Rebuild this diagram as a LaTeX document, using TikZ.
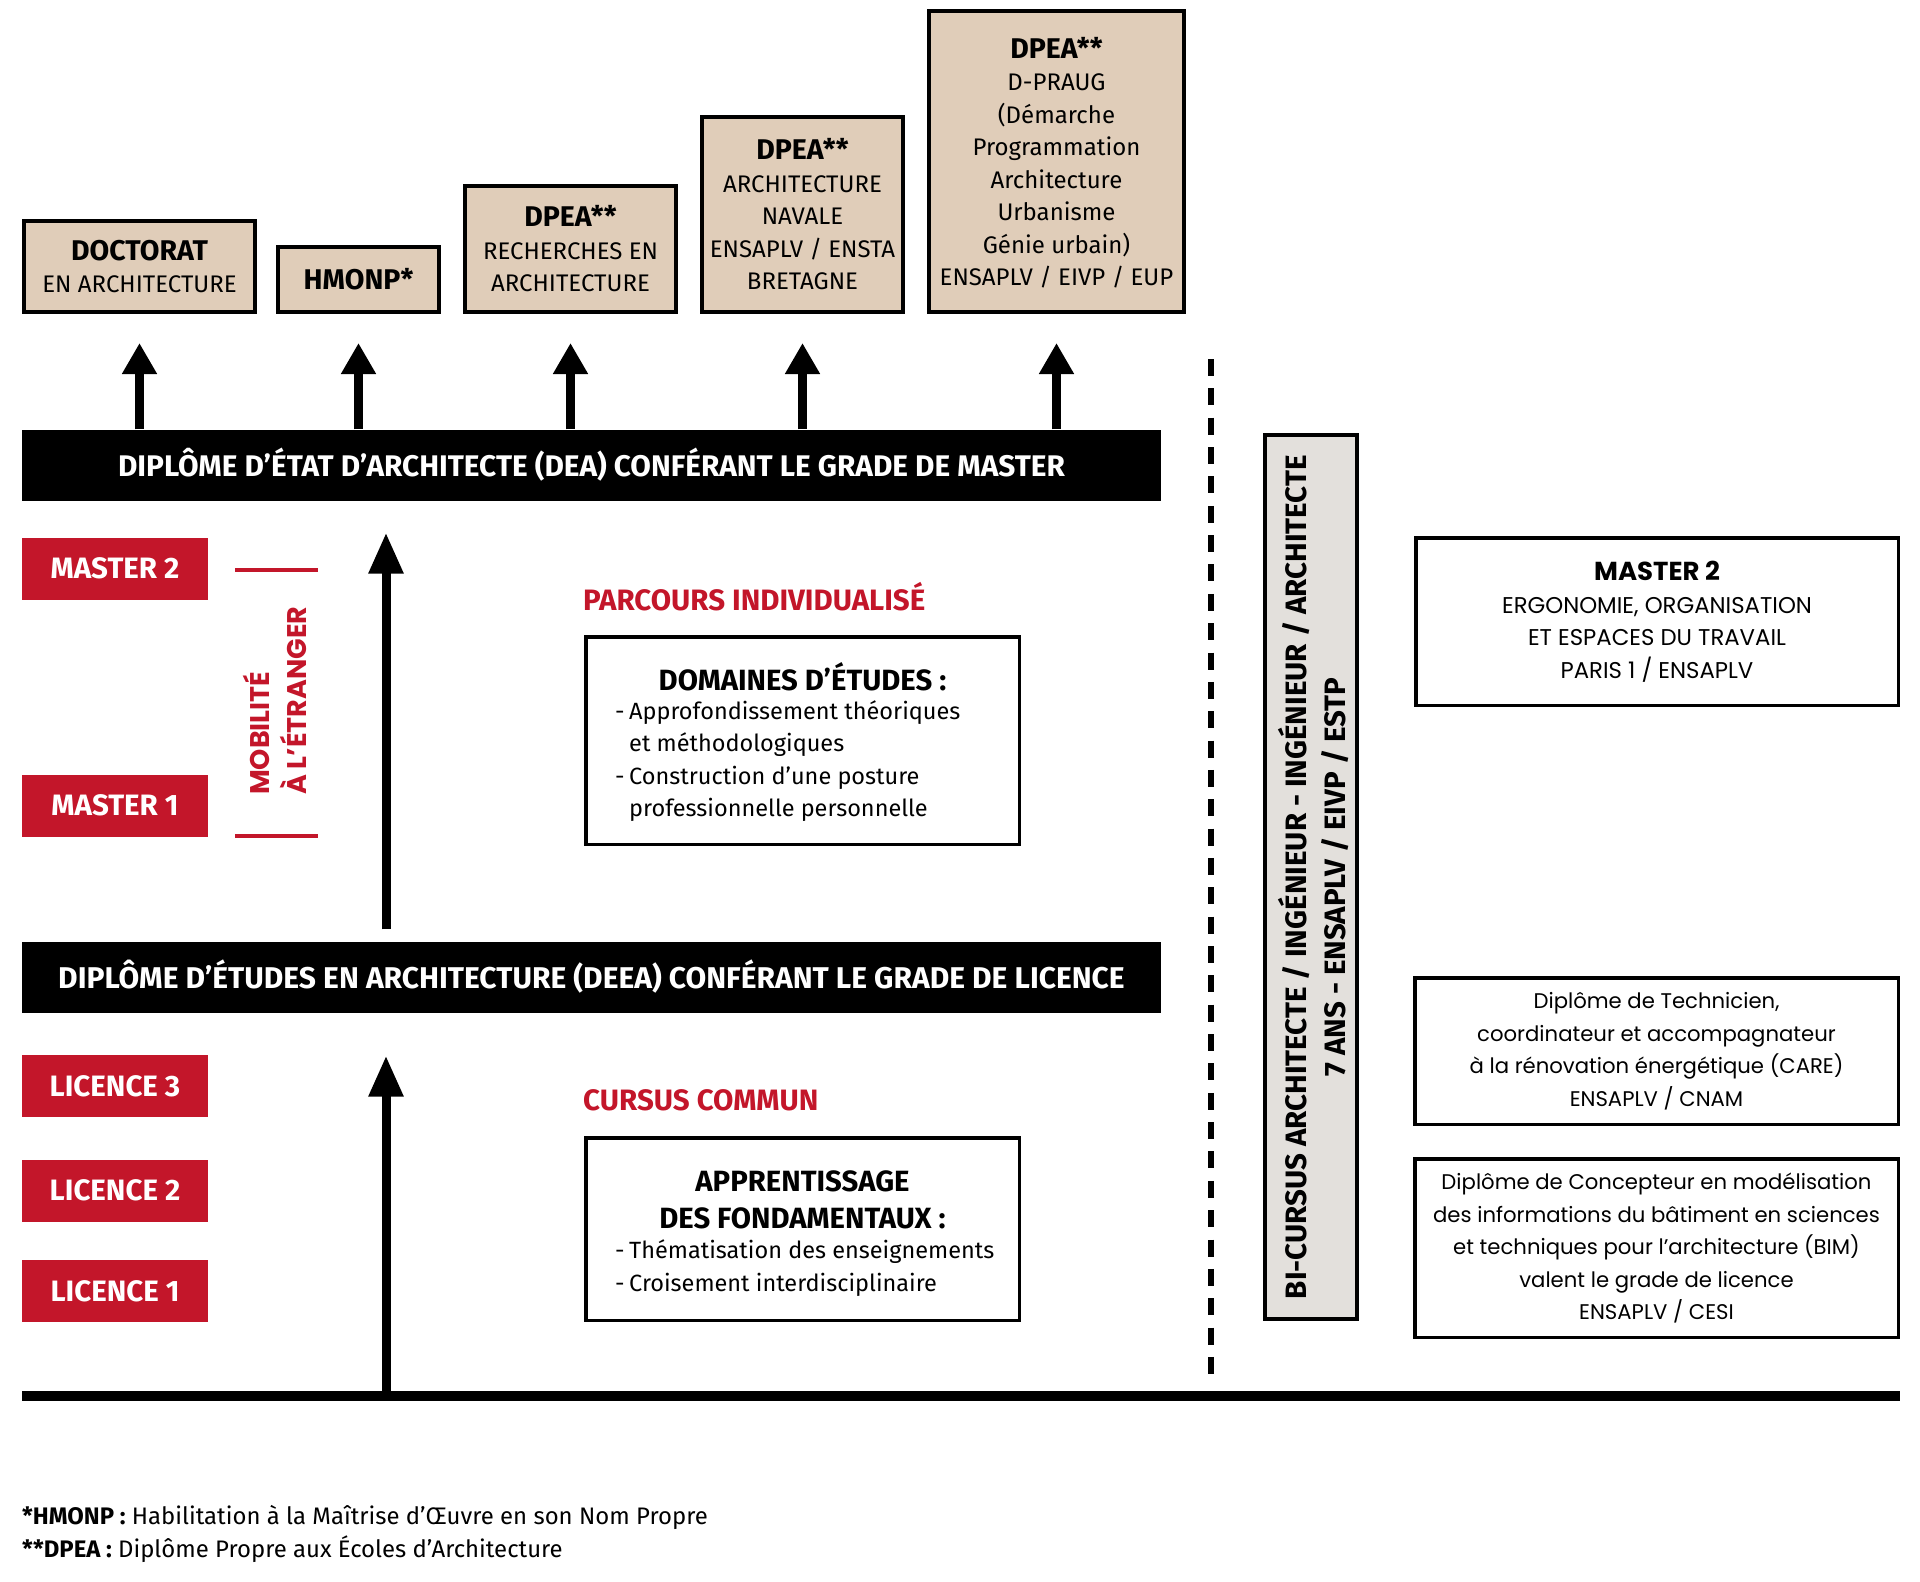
\documentclass[tikz,border=0pt]{standalone}
\usepackage{fontspec}
\setmainfont{Fira Sans}
\newfontfamily\geo{Poppins}
\usetikzlibrary{arrows.meta}
\definecolor{beige}{HTML}{E0CDB9}
\definecolor{rouge}{HTML}{C3162A}
\definecolor{gris}{HTML}{E3E0DC}
\newcommand{\fsz}[2]{\fontsize{#1}{#2}\selectfont}
\newcommand{\boxttl}[1]{{\fsz{28.5}{32.5}\bfseries #1}}
\begin{document}
\begin{tikzpicture}[x=1pt,y=-1pt,
 topbox/.style={draw=black,line width=4pt,fill=beige,inner sep=0pt,align=center,font=\fsz{24}{32.5}},
 blackbar/.style={fill=black,inner sep=0pt,text=white,font=\fsz{29.8}{34}\bfseries,minimum width=1139pt,minimum height=71pt},
 redlab/.style={fill=rouge,inner sep=0pt,text=white,font=\fsz{29.5}{34}\bfseries,minimum width=186pt,minimum height=62pt},
 wbox/.style={draw=black,line width=3.5pt,fill=white,inner sep=0pt},
 rbox/.style={wbox,align=center,font=\geo\fsz{21.2}{32.5}},
 uparr/.style={line width=9pt,-{Triangle[length=31pt,width=33pt]}},
 bigarr/.style={line width=9pt,-{Triangle[length=41pt,width=33pt]}},
 redtitle/.style={text=rouge,font=\fsz{29.5}{34}\bfseries,inner sep=0pt,anchor=west},
 bodytext/.style={font=\fsz{23.5}{32.4},inner sep=0pt,align=left,anchor=west},
 boxtitle/.style={font=\fsz{29.3}{37}\bfseries,inner sep=0pt,align=center},
]
\useasboundingbox (0,0) rectangle (1920,1582);
% top boxes
\node[topbox,minimum width=231pt,minimum height=91pt] (doc) at (139.5,266.5) {\boxttl{DOCTORAT}\\EN ARCHITECTURE};
\node[topbox,minimum width=161pt,minimum height=65pt] (hmonp) at (358.5,279.5) {\boxttl{HMONP*}};
\node[topbox,minimum width=211pt,minimum height=126pt] (rech) at (570.5,249) {\boxttl{DPEA**}\\RECHERCHES EN\\ARCHITECTURE};
\node[topbox,minimum width=201pt,minimum height=195pt] (nav) at (802.5,214.5) {\boxttl{DPEA**}\\ARCHITECTURE\\NAVALE\\ENSAPLV / ENSTA\\BRETAGNE};
\node[topbox,minimum width=255pt,minimum height=301pt,text depth=-6pt] (prau) at (1056.5,161.5) {\boxttl{DPEA**}\\D-PRAUG\\(Démarche\\Programmation\\Architecture\\Urbanisme\\Génie urbain)\\ENSAPLV / EIVP / EUP};
% bars
\node[blackbar] (dea) at (591.5,465) {DIPLÔME D’ÉTAT D’ARCHITECTE (DEA) CONFÉRANT LE GRADE DE MASTER};
\node[blackbar,font=\fsz{30}{34}\bfseries] (deea) at (591.5,977) {DIPLÔME D’ÉTUDES EN ARCHITECTURE (DEEA) CONFÉRANT LE GRADE DE LICENCE};
\foreach \n in {doc,hmonp,rech,nav,prau}
  \draw[uparr,shorten >=29pt] (dea.north -| \n.south) -- (\n.south);
% baseline
\coordinate (bl) at (22,1396);
\coordinate (br) at (1900,1396);
\draw[line width=10pt] (bl) -- (br);
\coordinate (ax) at (386,0);
\draw[bigarr,shorten <=12pt,shorten >=32pt] (deea.north -| ax) -- (dea.south -| ax);
\draw[bigarr,shorten >=43pt] (bl -| ax) -- (deea.south -| ax);
% red labels
\node[redlab] (m2) at (115,568.5) {MASTER 2};
\node[redlab] (m1) at (115,805.5) {MASTER 1};
\node[redlab] (l3) at (115,1086) {LICENCE 3};
\node[redlab] (l2) at (115,1190.5) {LICENCE 2};
\node[redlab] (l1) at (115,1291) {LICENCE 1};
\coordinate (r1a) at (235,570); \coordinate (r1b) at (318,570);
\coordinate (r2a) at (235,836); \coordinate (r2b) at (318,836);
\draw[rouge,line width=3.5pt] (r1a) -- (r1b);
\draw[rouge,line width=3.5pt] (r2a) -- (r2b);
\node[rotate=90,anchor=west,inner sep=0pt,align=left,text=rouge,font=\geo\bfseries\fsz{27}{37}] (mob) at (274.5,795) {MOBILITÉ\\À L’ÉTRANGER};
% parcours
\node[redtitle] (parc) at (583,597) {PARCOURS INDIVIDUALISÉ};
\node[wbox,minimum width=433.5pt,minimum height=207.5pt] (dom) at (802.5,740.5) {};
\node[boxtitle] (domt) at (802.5,677) {DOMAINES D’ÉTUDES :};
\node[bodytext] (domb) at (615,761) {\makebox[14pt][l]{-}Approfondissement théoriques\\\hspace*{14pt}et méthodologiques\\\makebox[14pt][l]{-}Construction d’une posture\\\hspace*{14pt}professionnelle personnelle};
% cursus
\node[redtitle] (curs) at (583,1100) {CURSUS COMMUN};
\node[wbox,minimum width=433.5pt,minimum height=182.5pt] (app) at (802.5,1229) {};
\node[boxtitle] (appt) at (802.5,1199.5) {APPRENTISSAGE\\DES FONDAMENTAUX :};
\node[bodytext] (appb) at (615,1268) {\makebox[14pt][l]{-}Thématisation des enseignements\\\makebox[14pt][l]{-}Croisement interdisciplinaire};
% dashed separator
\coordinate (dt) at (1211,359); \coordinate (db) at (1211,1374);
\draw[line width=6pt,dash pattern=on 17pt off 12.35pt] (dt) -- (db);
% bi-cursus
\node[draw=black,line width=4pt,fill=gris,inner sep=0pt,minimum width=92pt,minimum height=884pt] (bic) at (1311,877) {};
\node[rotate=90,align=center,inner sep=0pt,font=\fsz{29.5}{39}\bfseries] (bict) at (1314,877) {BI-CURSUS ARCHITECTE / INGÉNIEUR - INGÉNIEUR / ARCHITECTE\\7 ANS - ENSAPLV / EIVP / ESTP};
% right boxes
\node[rbox,minimum width=482.5pt,minimum height=167.5pt] (m2r) at (1657,621.5) {{\fsz{26}{32.5}\bfseries MASTER 2}\\{\fsz{22.8}{32.5}ERGONOMIE, ORGANISATION}\\{\fsz{22.8}{32.5}ET ESPACES DU TRAVAIL}\\{\fsz{22.8}{32.5}PARIS 1 / ENSAPLV}};
\node[rbox,minimum width=483.5pt,minimum height=146.5pt] (care) at (1656.5,1051) {Diplôme de Technicien,\\coordinateur et accompagnateur\\à la rénovation énergétique (CARE)\\ENSAPLV / CNAM};
\node[rbox,minimum width=483.5pt,minimum height=178.5pt] (bim) at (1656.5,1248) {Diplôme de Concepteur en modélisation\\des informations du bâtiment en sciences\\et techniques pour l’architecture (BIM)\\valent le grade de licence\\ENSAPLV / CESI};
% footnotes
\node[anchor=west,inner sep=0pt,font=\fsz{23.9}{28}] (fn1) at (22,1517) {\textbf{*HMONP :} Habilitation à la Maîtrise d’Œuvre en son Nom Propre};
\node[anchor=west,inner sep=0pt,font=\fsz{23.9}{28}] (fn2) at (22,1549) {\textbf{**DPEA :} Diplôme Propre aux Écoles d’Architecture};
\end{tikzpicture}
\end{document}
